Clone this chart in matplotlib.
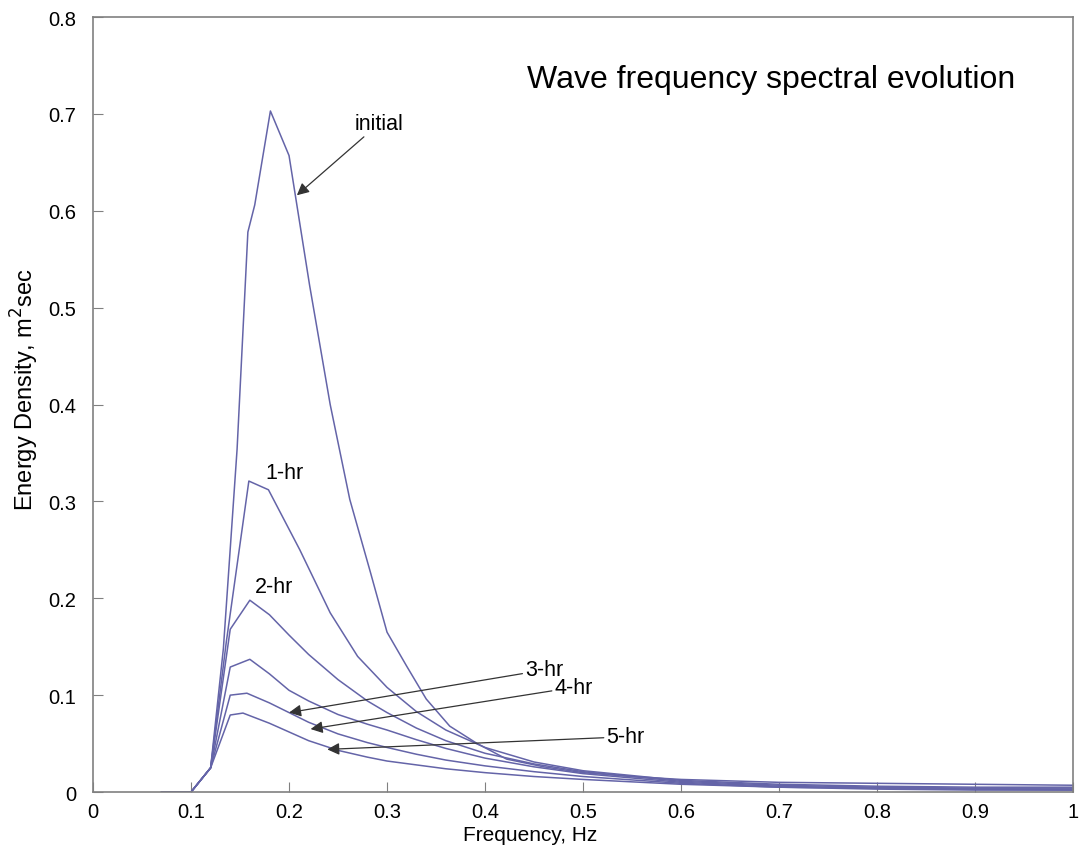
import numpy as np
import matplotlib.pyplot as plt

plt.rcParams['font.family'] = ['Liberation Sans', 'DejaVu Sans']

# spectra (frequency in Hz, energy density in m^2 sec)
f_init = [0.07, 0.10, 0.12, 0.133, 0.147, 0.158, 0.165, 0.181, 0.200, 0.221, 0.242,
          0.262, 0.283, 0.300, 0.320, 0.340, 0.364, 0.392, 0.422, 0.46, 0.50, 0.55,
          0.60, 0.70, 0.80, 0.90, 1.00]
e_init = [0, 0, 0.025, 0.148, 0.354, 0.578, 0.606, 0.703, 0.657, 0.523, 0.400,
          0.302, 0.227, 0.165, 0.130, 0.096, 0.068, 0.050, 0.034, 0.026, 0.020, 0.016,
          0.013, 0.010, 0.009, 0.008, 0.007]

f_1hr = [0.07, 0.10, 0.12, 0.136, 0.159, 0.179, 0.211, 0.242, 0.27, 0.30, 0.33, 0.36,
         0.40, 0.45, 0.50, 0.60, 0.70, 0.80, 0.90, 1.00]
e_1hr = [0, 0, 0.025, 0.155, 0.321, 0.312, 0.250, 0.185, 0.140, 0.108, 0.083, 0.064,
         0.046, 0.031, 0.022, 0.012, 0.008, 0.006, 0.005, 0.005]

f_2hr = [0.07, 0.10, 0.12, 0.14, 0.16, 0.18, 0.20, 0.22, 0.25, 0.28, 0.30, 0.33, 0.36,
         0.40, 0.45, 0.50, 0.60, 0.70, 0.80, 0.90, 1.00]
e_2hr = [0, 0, 0.025, 0.168, 0.198, 0.183, 0.162, 0.142, 0.116, 0.094, 0.082, 0.066,
         0.053, 0.040, 0.029, 0.021, 0.011, 0.007, 0.005, 0.004, 0.004]

f_3hr = [0.07, 0.10, 0.12, 0.14, 0.16, 0.18, 0.20, 0.22, 0.25, 0.28, 0.30, 0.33, 0.36,
         0.40, 0.45, 0.50, 0.60, 0.70, 0.80, 0.90, 1.00]
e_3hr = [0, 0, 0.025, 0.129, 0.137, 0.122, 0.105, 0.094, 0.080, 0.070, 0.064, 0.054,
         0.045, 0.035, 0.026, 0.019, 0.010, 0.006, 0.004, 0.003, 0.003]

f_4hr = [0.07, 0.10, 0.12, 0.14, 0.157, 0.18, 0.20, 0.22, 0.25, 0.28, 0.30, 0.33, 0.36,
         0.40, 0.45, 0.50, 0.60, 0.70, 0.80, 0.90, 1.00]
e_4hr = [0, 0, 0.025, 0.100, 0.102, 0.092, 0.082, 0.072, 0.060, 0.051, 0.046, 0.039,
         0.033, 0.027, 0.021, 0.016, 0.009, 0.005, 0.004, 0.003, 0.002]

f_5hr = [0.07, 0.10, 0.12, 0.14, 0.153, 0.18, 0.20, 0.22, 0.25, 0.28, 0.30, 0.33, 0.36,
         0.40, 0.45, 0.50, 0.60, 0.70, 0.80, 0.90, 1.00]
e_5hr = [0, 0, 0.025, 0.0795, 0.0815, 0.071, 0.062, 0.053, 0.043, 0.036, 0.032, 0.028,
         0.024, 0.020, 0.016, 0.013, 0.008, 0.005, 0.003, 0.002, 0.002]

curves = [(f_init, e_init), (f_1hr, e_1hr), (f_2hr, e_2hr),
          (f_3hr, e_3hr), (f_4hr, e_4hr), (f_5hr, e_5hr)]

fig = plt.figure(figsize=(10.83, 8.54), dpi=100)
ax = fig.add_axes([0.0859, 0.0714, 0.9049, 0.9075])

for f, e in curves:
    ax.plot(f, e, color='#6464a8', lw=1.1)

ax.set_xlim(0, 1)
ax.set_ylim(0, 0.8)
ax.set_xticks(np.arange(0, 1.01, 0.1))
ax.set_yticks(np.arange(0, 0.81, 0.1))
ax.set_xticklabels(['0', '0.1', '0.2', '0.3', '0.4', '0.5', '0.6', '0.7', '0.8', '0.9', '1'])
ax.set_yticklabels(['0', '0.1', '0.2', '0.3', '0.4', '0.5', '0.6', '0.7', '0.8'])
ax.tick_params(direction='in', length=7, color='#808080', labelsize=14.5)
ax.tick_params(axis='y', pad=12)
ax.tick_params(axis='x', pad=7)
for s in ax.spines.values():
    s.set_color('#808080')
    s.set_linewidth(1.2)

ax.set_xlabel('Frequency, Hz', fontsize=15)
ax.set_ylabel('Energy Density, m$^2$sec', fontsize=17)
ax.xaxis.set_label_coords(0.446, -0.043)
ax.yaxis.set_label_coords(-0.053, 0.52)

ax.text(0.443, 0.736, 'Wave frequency spectral evolution', fontsize=23, va='center')

arrow = dict(arrowstyle='-|>', color='#333333', lw=0.9, mutation_scale=18,
             shrinkA=0, shrinkB=0)
ax.annotate('initial', xy=(0.208, 0.616), xytext=(0.267, 0.69), fontsize=15.5,
            va='center', arrowprops=arrow)
ax.text(0.176, 0.33, '1-hr', fontsize=15.5, va='center')
ax.text(0.165, 0.212, '2-hr', fontsize=15.5, va='center')
ax.annotate('3-hr', xy=(0.200, 0.082), xytext=(0.441, 0.126), fontsize=15.5,
            va='center', arrowprops=arrow)
ax.annotate('4-hr', xy=(0.222, 0.065), xytext=(0.471, 0.108), fontsize=15.5,
            va='center', arrowprops=arrow)
ax.annotate('5-hr', xy=(0.239, 0.044), xytext=(0.524, 0.057), fontsize=15.5,
            va='center', arrowprops=arrow)

fig.savefig('out.png', dpi=100)
